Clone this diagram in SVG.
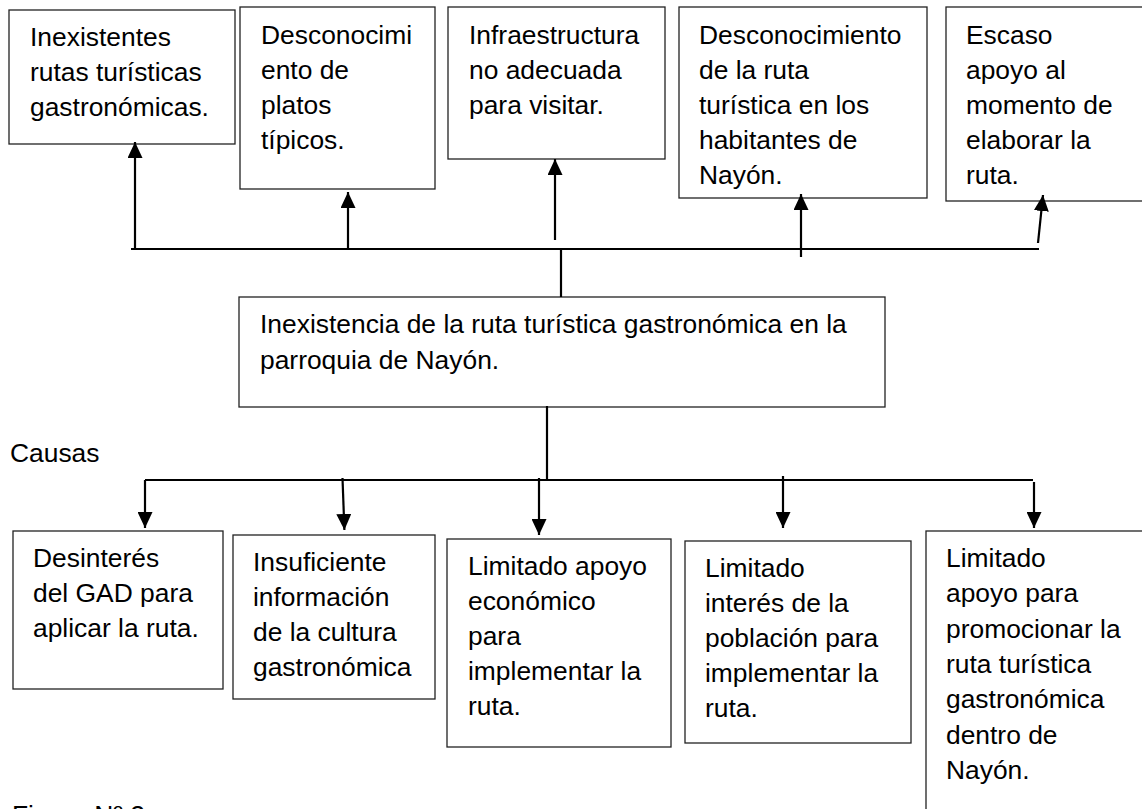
<svg xmlns="http://www.w3.org/2000/svg" width="1142" height="809" viewBox="0 0 1142 809">
<style>
.box{fill:#fff;stroke:#222;stroke-width:1.3}
.t{font-family:"Liberation Sans",Arial,sans-serif;font-size:26.4px;fill:#000}
.c{stroke:#000;stroke-width:2.2;fill:none}
.a{stroke:#000;stroke-width:2.2;fill:none;marker-end:url(#ah)}
</style>
<defs>
<marker id="ah" markerUnits="userSpaceOnUse" markerWidth="16" markerHeight="15" refX="16" refY="7.5" orient="auto" viewBox="0 0 16 15">
<path d="M0,0 L16,7.5 L0,15 z" fill="#000"/>
</marker>
</defs>
<rect width="1142" height="809" fill="#fff"/>
<g id="efecto1"><rect class="box" x="9" y="10" width="226" height="134"/>
<text class="t"><tspan x="30" y="46">Inexistentes</tspan><tspan x="30" y="81">rutas turísticas</tspan><tspan x="30" y="116">gastronómicas.</tspan></text></g>
<g id="efecto2"><rect class="box" x="240" y="7" width="195" height="182"/>
<text class="t"><tspan x="261" y="44">Desconocimi</tspan><tspan x="261" y="79">ento de</tspan><tspan x="261" y="114">platos</tspan><tspan x="261" y="149">típicos.</tspan></text></g>
<g id="efecto3"><rect class="box" x="448" y="7" width="217" height="152"/>
<text class="t"><tspan x="469" y="44">Infraestructura</tspan><tspan x="469" y="79">no adecuada</tspan><tspan x="469" y="114">para visitar.</tspan></text></g>
<g id="efecto4"><rect class="box" x="679" y="7" width="248" height="191"/>
<text class="t"><tspan x="699" y="44">Desconocimiento</tspan><tspan x="699" y="79">de la ruta</tspan><tspan x="699" y="114">turística en los</tspan><tspan x="699" y="149">habitantes de</tspan><tspan x="699" y="184">Nayón.</tspan></text></g>
<g id="efecto5"><rect class="box" x="946" y="7" width="200" height="194"/>
<text class="t"><tspan x="966" y="44">Escaso</tspan><tspan x="966" y="79">apoyo al</tspan><tspan x="966" y="114">momento de</tspan><tspan x="966" y="149">elaborar la</tspan><tspan x="966" y="184">ruta.</tspan></text></g>
<g id="problema"><rect class="box" x="239" y="297" width="646" height="110"/>
<text class="t"><tspan x="260" y="333">Inexistencia de la ruta turística gastronómica en la</tspan><tspan x="260" y="369">parroquia de Nayón.</tspan></text></g>
<g id="causas-label"><text class="t" x="10" y="462">Causas</text></g>
<g id="causa1"><rect class="box" x="13" y="531" width="210" height="158"/>
<text class="t"><tspan x="33" y="567">Desinterés</tspan><tspan x="33" y="602">del GAD para</tspan><tspan x="33" y="637">aplicar la ruta.</tspan></text></g>
<g id="causa2"><rect class="box" x="233" y="535" width="202" height="164"/>
<text class="t"><tspan x="253" y="571">Insuficiente</tspan><tspan x="253" y="606">información</tspan><tspan x="253" y="641">de la cultura</tspan><tspan x="253" y="676">gastronómica</tspan></text></g>
<g id="causa3"><rect class="box" x="447" y="539" width="224" height="208"/>
<text class="t"><tspan x="468" y="575">Limitado apoyo</tspan><tspan x="468" y="610">económico</tspan><tspan x="468" y="645">para</tspan><tspan x="468" y="680">implementar la</tspan><tspan x="468" y="715">ruta.</tspan></text></g>
<g id="causa4"><rect class="box" x="685" y="541" width="226" height="202"/>
<text class="t"><tspan x="705" y="577">Limitado</tspan><tspan x="705" y="612">interés de la</tspan><tspan x="705" y="647">población para</tspan><tspan x="705" y="682">implementar la</tspan><tspan x="705" y="717">ruta.</tspan></text></g>
<g id="causa5"><rect class="box" x="926" y="531" width="220" height="300"/>
<text class="t"><tspan x="946" y="567">Limitado</tspan><tspan x="946" y="602">apoyo para</tspan><tspan x="946" y="638">promocionar la</tspan><tspan x="946" y="673">ruta turística</tspan><tspan x="946" y="708">gastronómica</tspan><tspan x="946" y="744">dentro de</tspan><tspan x="946" y="779">Nayón.</tspan></text></g>
<g id="figura"><text class="t" x="12" y="824">Figura Nº 2</text></g>
<g id="connectors">
<line class="c" x1="131" y1="249" x2="1039" y2="249"/>
<line class="c" x1="561" y1="249" x2="561" y2="297"/>
<line class="a" x1="135" y1="249" x2="135" y2="142"/>
<line class="a" x1="348" y1="249" x2="348" y2="192"/>
<line class="a" x1="555" y1="240" x2="555" y2="159"/>
<line class="a" x1="801" y1="257" x2="801" y2="194"/>
<line class="a" x1="1038" y1="243" x2="1043" y2="195"/>
<line class="c" x1="547" y1="406" x2="547" y2="480"/>
<line class="c" x1="145" y1="480" x2="1033" y2="480"/>
<line class="a" x1="145" y1="480" x2="145" y2="528"/>
<line class="a" x1="342.5" y1="478" x2="344.4" y2="530"/>
<line class="a" x1="539" y1="478" x2="539" y2="535"/>
<line class="a" x1="783" y1="476" x2="783" y2="528"/>
<line class="a" x1="1034" y1="482" x2="1034" y2="528"/>
</g>
</svg>
